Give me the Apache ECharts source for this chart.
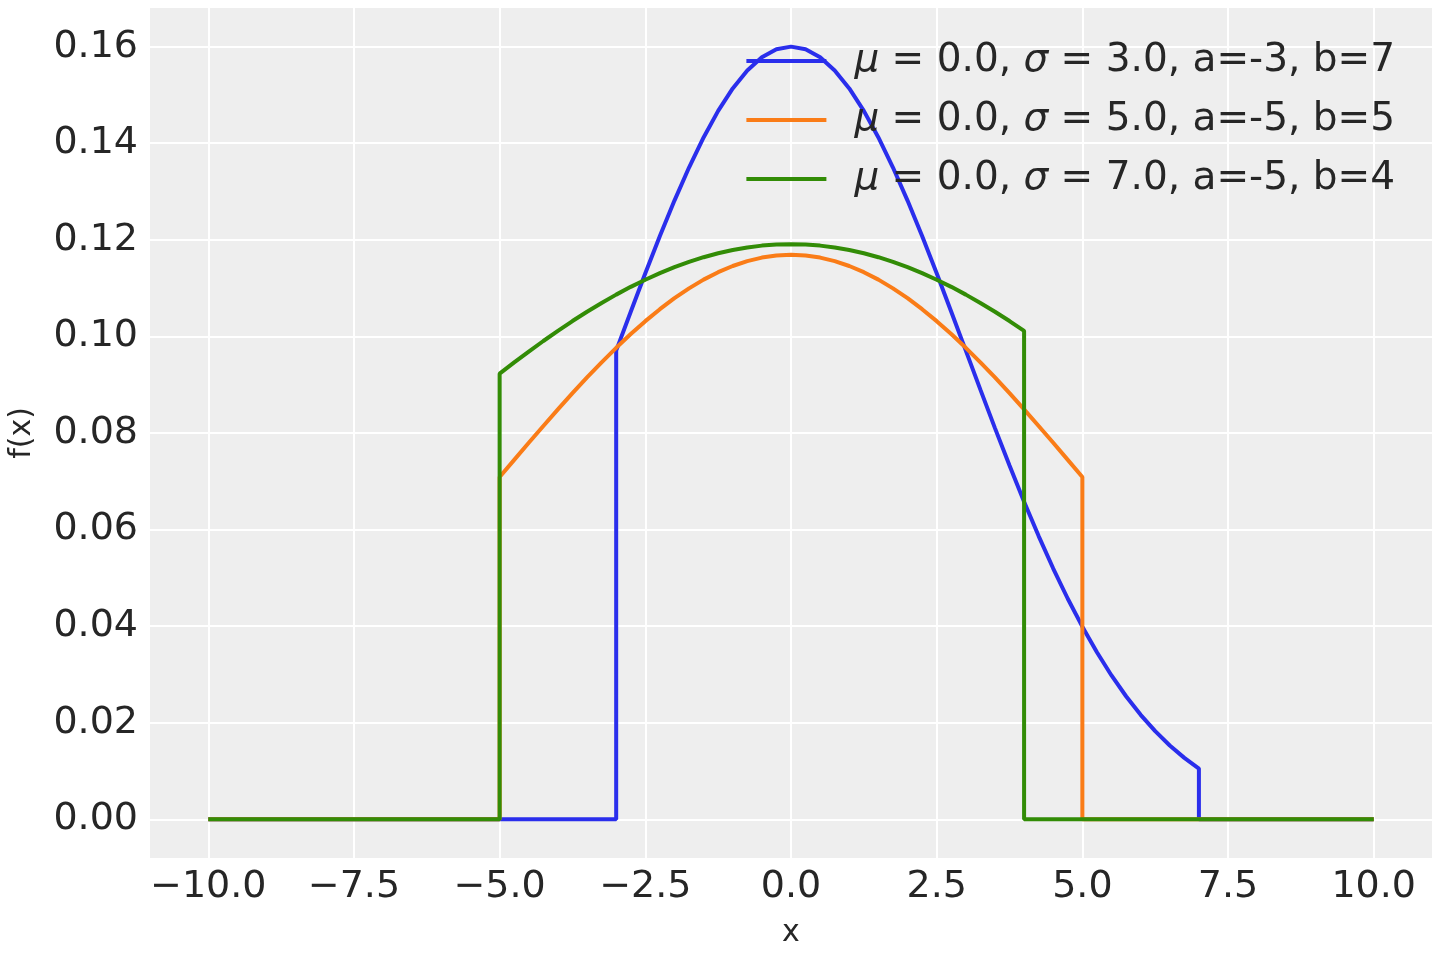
<!DOCTYPE html>
<html style="height: 100%">
<head>
    <meta charset="utf-8">
    <style>
        html, body {
            height: 100%;
            margin: 0;
            padding: 0;
            overflow: hidden;
            background: #ffffff;
        }
        #container {
            width: 1440px;
            height: 960px;
        }
    </style>
</head>
<body>
    <div id="container"></div>
    <script src="https://cdn.jsdelivr.net/npm/echarts@6/dist/echarts.min.js"></script>
    <script>
        // truncated normal pdfs
        var blueX = [-10, -3, -3, -2.75, -2.5, -2.25, -2, -1.75, -1.5, -1.25, -1, -0.75, -0.5, -0.25, 0,
            0.25, 0.5, 0.75, 1, 1.25, 1.5, 1.75, 2, 2.25, 2.5, 2.75, 3, 3.25, 3.5, 3.75, 4,
            4.25, 4.5, 4.75, 5, 5.25, 5.5, 5.75, 6, 6.25, 6.5, 6.75, 7, 7, 10];
        var blueY = [0, 0, 0.09705, 0.10512, 0.11306, 0.12077, 0.12812, 0.13497, 0.14120, 0.14670, 0.15135, 0.15508, 0.15779, 0.15944, 0.16000,
            0.15944, 0.15779, 0.15508, 0.15135, 0.14670, 0.14120, 0.13497, 0.12812, 0.12077, 0.11306, 0.10512, 0.09705, 0.08898, 0.08101, 0.07325, 0.06578,
            0.05866, 0.05194, 0.04568, 0.03990, 0.03460, 0.02980, 0.02549, 0.02165, 0.01827, 0.01530, 0.01273, 0.01052, 0, 0];

        var orangeX = [-10, -5, -5, -4.75, -4.5, -4.25, -4, -3.75, -3.5, -3.25, -3, -2.75, -2.5, -2.25, -2, -1.75, -1.5, -1.25, -1, -0.75, -0.5, -0.25, 0,
            0.25, 0.5, 0.75, 1, 1.25, 1.5, 1.75, 2, 2.25, 2.5, 2.75, 3, 3.25, 3.5, 3.75, 4, 4.25, 4.5, 4.75, 5, 5, 10];
        var orangeY = [0, 0, 0.07090, 0.07444, 0.07797, 0.08146, 0.08489, 0.08824, 0.09150, 0.09464, 0.09764, 0.10049, 0.10316, 0.10564, 0.10791, 0.10995, 0.11176, 0.11330, 0.11458, 0.11559, 0.11632, 0.11675, 0.11690,
            0.11675, 0.11632, 0.11559, 0.11458, 0.11330, 0.11176, 0.10995, 0.10791, 0.10564, 0.10316, 0.10049, 0.09764, 0.09464, 0.09150, 0.08824, 0.08489, 0.08146, 0.07797, 0.07444, 0.07090, 0, 0];

        var greenX = [-10, -5, -5, -4.75, -4.5, -4.25, -4, -3.75, -3.5, -3.25, -3, -2.75, -2.5, -2.25, -2, -1.75, -1.5, -1.25, -1, -0.75, -0.5, -0.25, 0,
            0.25, 0.5, 0.75, 1, 1.25, 1.5, 1.75, 2, 2.25, 2.5, 2.75, 3, 3.25, 3.5, 3.75, 4, 4, 10];
        var greenY = [0, 0, 0.09228, 0.09461, 0.09687, 0.09905, 0.10116, 0.10318, 0.10511, 0.10693, 0.10865, 0.11026, 0.11174, 0.11310, 0.11434, 0.11543, 0.11640, 0.11722, 0.11789, 0.11842, 0.11880, 0.11902, 0.11910,
            0.11902, 0.11880, 0.11842, 0.11789, 0.11722, 0.11640, 0.11543, 0.11434, 0.11310, 0.11174, 0.11026, 0.10865, 0.10693, 0.10511, 0.10318, 0.10116, 0, 0];

        var seriesNames = [
            '{i|μ} = 0.0, {i|σ} = 3.0, a=-3, b=7',
            '{i|μ} = 0.0, {i|σ} = 5.0, a=-5, b=5',
            '{i|μ} = 0.0, {i|σ} = 7.0, a=-5, b=4'
        ];
        var colors = ['#2a2eec', '#fa7c17', '#328c06'];

        var xTicks = [-10, -7.5, -5, -2.5, 0, 2.5, 5, 7.5, 10];
        var yTicks = [0, 0.02, 0.04, 0.06, 0.08, 0.10, 0.12, 0.14, 0.16];

        function pairs(xs, ys) {
            return xs.map(function (x, i) { return [x, ys[i]]; });
        }

        var textColor = '#262626';
        var font = 'DejaVu Sans';

        var dom = document.getElementById('container');
        var myChart = echarts.init(dom, null, { renderer: 'canvas' });

        var allX = [blueX, orangeX, greenX];
        var allY = [blueY, orangeY, greenY];
        var series = seriesNames.map(function (name, k) {
            return {
                type: 'line',
                name: name,
                data: pairs(allX[k], allY[k]),
                showSymbol: false,
                symbol: 'none',
                z: 2 + k,
                lineStyle: { color: colors[k], width: 4 },
                itemStyle: { color: colors[k] }
            };
        });

        var option = {
            animation: false,
            backgroundColor: '#ffffff',
            textStyle: { fontFamily: font },
            grid: {
                left: 150,
                right: 8,
                top: 8,
                bottom: 102,
                outerBoundsMode: 'none',
                containLabel: false,
                show: true,
                backgroundColor: '#eeeeee',
                borderWidth: 0
            },
            legend: {
                orient: 'vertical',
                right: 40,
                top: 36,
                icon: 'rect',
                itemWidth: 80,
                itemHeight: 4,
                itemGap: 19,
                textStyle: {
                    color: textColor,
                    fontSize: 39,
                    lineHeight: 40,
                    fontFamily: font,
                    padding: [0, 0, 0, 23],
                    rich: {
                        i: { fontStyle: 'italic', fontSize: 39, lineHeight: 40, fontFamily: font, color: textColor }
                    }
                },
                data: seriesNames
            },
            xAxis: {
                type: 'value',
                min: -11,
                max: 11,
                name: 'x',
                nameLocation: 'middle',
                nameGap: 60,
                nameTextStyle: { color: textColor, fontSize: 30, fontFamily: font },
                axisLine: { show: false },
                axisTick: { show: false, customValues: xTicks },
                splitLine: { show: true, lineStyle: { color: '#ffffff', width: 2 } },
                axisLabel: {
                    customValues: xTicks,
                    color: textColor,
                    fontSize: 38,
                    fontFamily: font,
                    margin: 10,
                    formatter: function (v) {
                        return v.toFixed(1).replace('-', '\u2212');
                    }
                }
            },
            yAxis: {
                type: 'value',
                min: -0.008,
                max: 0.168,
                name: 'f(x)',
                nameLocation: 'middle',
                nameGap: 113,
                nameTextStyle: { color: textColor, fontSize: 30, fontFamily: font },
                axisLine: { show: false },
                axisTick: { show: false, customValues: yTicks },
                splitLine: { show: true, lineStyle: { color: '#ffffff', width: 2 } },
                axisLabel: {
                    customValues: yTicks,
                    color: textColor,
                    fontSize: 38,
                    fontFamily: font,
                    margin: 12,
                    formatter: function (v) {
                        return v.toFixed(2);
                    }
                }
            },
            series: series
        };
        myChart.setOption(option);
    </script>
</body>
</html>
